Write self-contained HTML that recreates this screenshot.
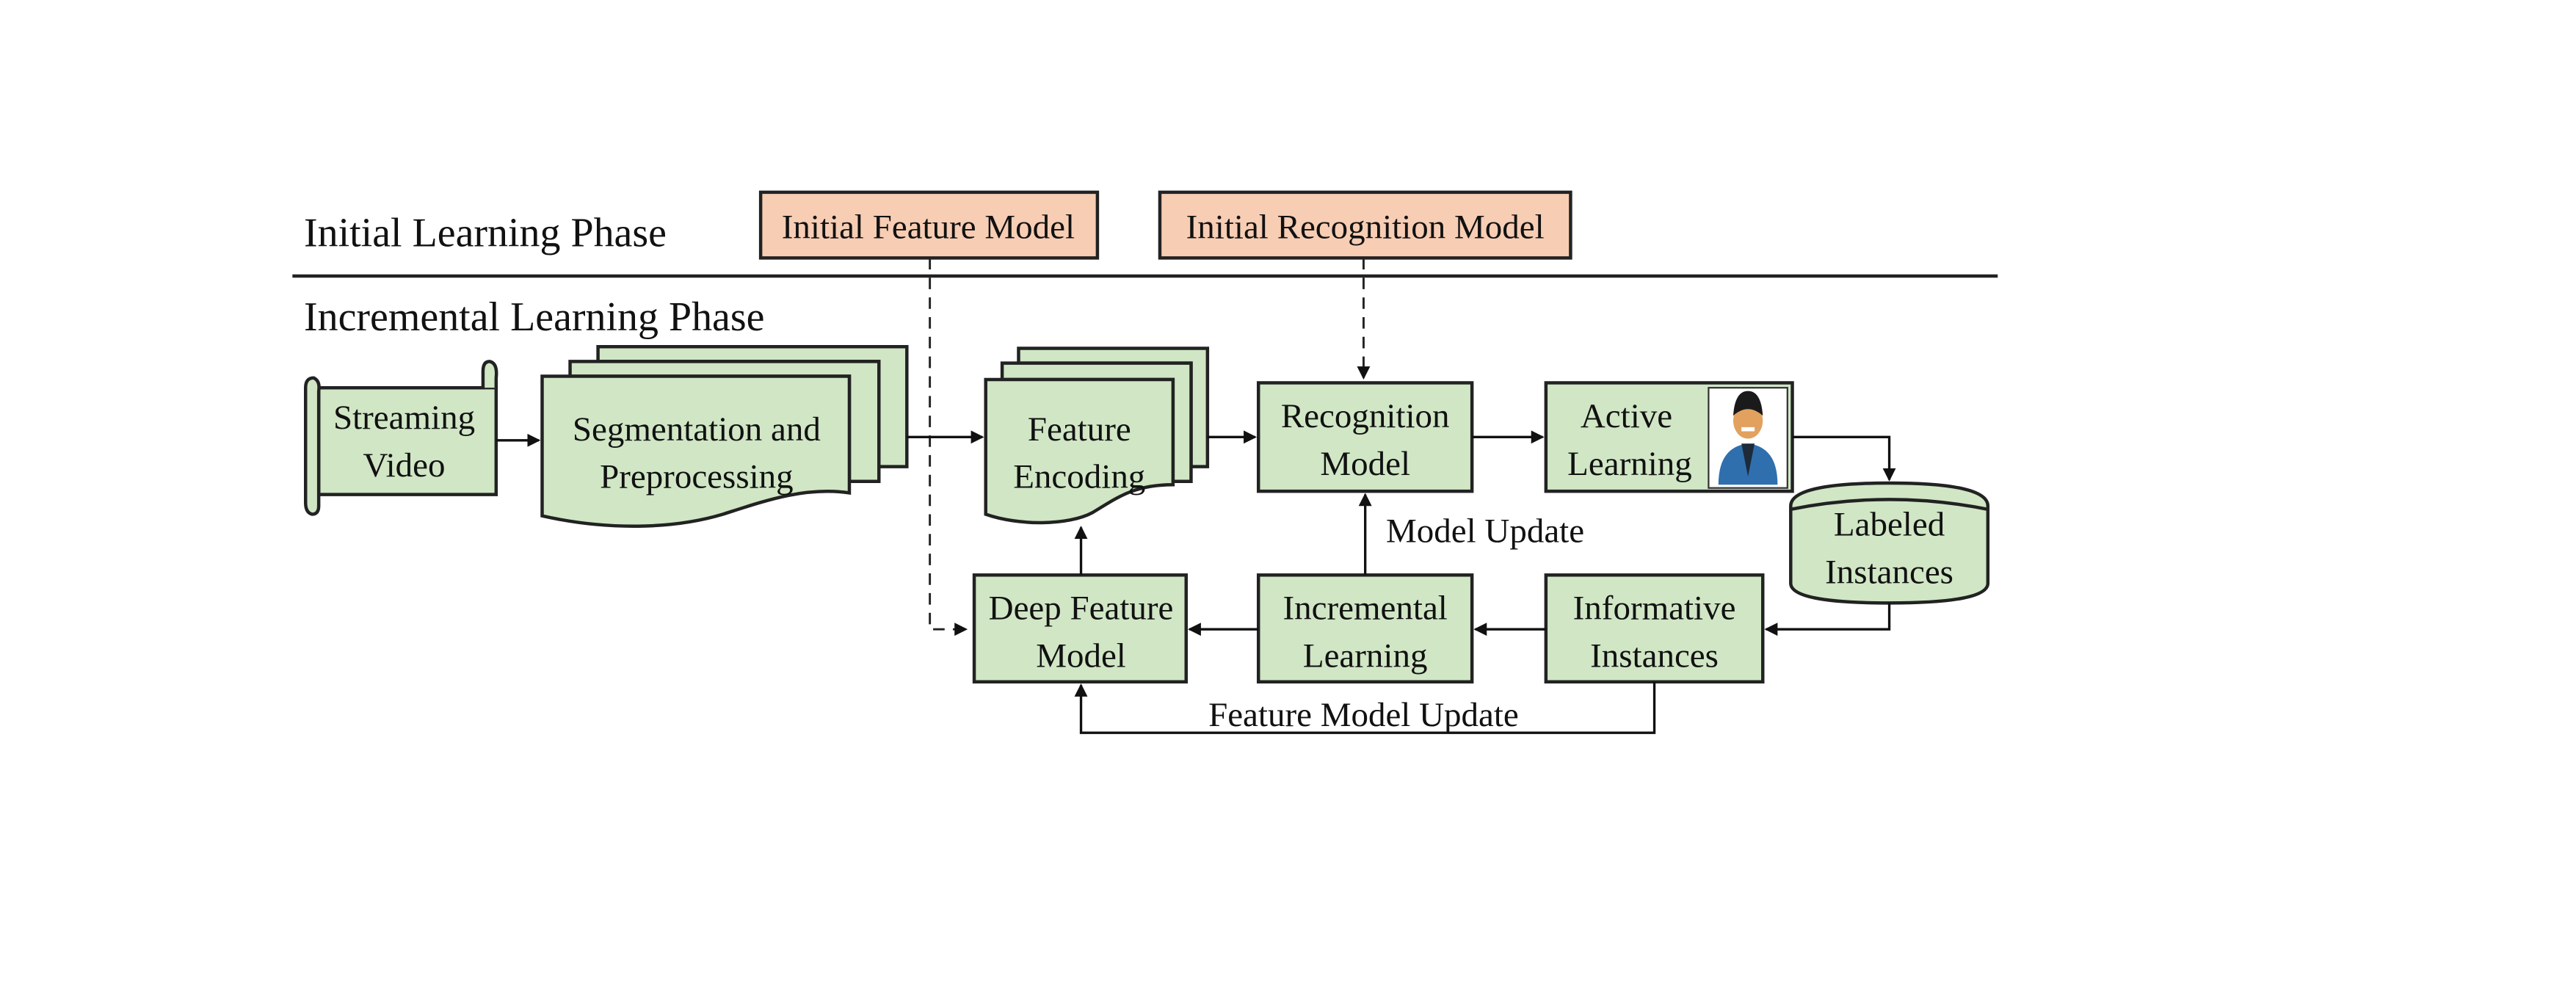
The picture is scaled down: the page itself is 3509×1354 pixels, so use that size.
<!DOCTYPE html>
<html><head><style>html,body{margin:0;padding:0;background:#fff}svg{display:block}</style></head>
<body>
<svg width="3509" height="1354" viewBox="0 0 1568 605" xmlns="http://www.w3.org/2000/svg" font-family="Liberation Serif, serif">
<defs>
<marker id="a" markerWidth="8" markerHeight="8" refX="7" refY="4" orient="auto" markerUnits="userSpaceOnUse"><path d="M0,0 L8,4 L0,8 Z" fill="#111"/></marker>
</defs>
<g fill="#111">
<text x="185" y="150" font-size="25">Initial Learning Phase</text>
<text x="185" y="201" font-size="25">Incremental Learning Phase</text>
</g>
<line x1="178" y1="168" x2="1216" y2="168" stroke="#222" stroke-width="2"/>
<g stroke="#222" stroke-width="2" fill="#f7cdb4">
<rect x="463" y="117" width="205" height="40"/>
<rect x="706" y="117" width="250" height="40"/>
</g>
<g font-size="21" fill="#111" text-anchor="middle">
<text x="565" y="145">Initial Feature Model</text>
<text x="831" y="145">Initial Recognition Model</text>
</g>
<!-- dashed lines -->
<g stroke="#222" stroke-width="1.3" fill="none" stroke-dasharray="7,5">
<path d="M566,157 V383 H588" marker-end="url(#a)"/>
<path d="M830,157 V230" marker-end="url(#a)"/>
</g>
<g stroke="#222" stroke-width="2" fill="#d0e6c5">
<!-- streaming video scroll -->
<path d="M194,236 H302 V301 H194 Z"/>
<path d="M194,236 H294 V226 Q294,220 298,220 Q303,221 302,230 V236"/>
<path d="M186,236 Q186,230 191,230 Q195,232 194,238 V308 Q194,313 190,313 Q186,312 186,306 Z"/>
<!-- segmentation stack -->
<path d="M364,211 H552 V284 H535 V220 H364 Z"/>
<path d="M347,220 H535 V293 H517 V229 H347 Z"/>
<path d="M330,229 H517 V300 C490,296 465,305 440,313 C410,322 370,323 330,314 Z"/>
<!-- feature encoding stack -->
<path d="M620,212 H735 V284 H725 V221 H620 Z"/>
<path d="M610,221 H725 V293 H714 V231 H610 Z"/>
<path d="M600,231 H714 V295 C690,295 680,303 665,312 C650,320 620,320 600,313 Z"/>
<rect x="766" y="233" width="130" height="66"/>
<rect x="941" y="233" width="150" height="66"/>
<rect x="593" y="350" width="129" height="65"/>
<rect x="766" y="350" width="130" height="65"/>
<rect x="941" y="350" width="132" height="65"/>
<!-- cylinder -->
<path d="M1090,308 Q1090,294 1150,294 Q1210,294 1210,308 V355 Q1210,367 1150,367 Q1090,367 1090,355 Z"/>
<path d="M1090,310 Q1150,298 1210,310" fill="none"/>
</g>
<!-- person -->
<rect x="1040" y="236" width="48" height="61" fill="#fff" stroke="#333" stroke-width="1"/>
<path d="M1046,295 Q1046,272 1064,270 Q1082,272 1082,295 Z" fill="#2f6fae"/>
<path d="M1060,270 L1064,290 L1068,270 Z" fill="#1d2a3a"/>
<ellipse cx="1064" cy="256" rx="9" ry="11" fill="#e2a15f"/>
<path d="M1055,253 Q1056,238 1064,238 Q1072,238 1073,253 Q1064,245 1055,253 Z" fill="#1a1a1a"/>
<rect x="1060" y="260" width="8" height="2.5" fill="#fff"/>
<g font-size="21" fill="#111" text-anchor="middle">
<text x="246" y="261">Streaming</text><text x="246" y="290">Video</text>
<text x="424" y="268">Segmentation and</text><text x="424" y="297">Preprocessing</text>
<text x="657" y="268">Feature</text><text x="657" y="297">Encoding</text>
<text x="831" y="260">Recognition</text><text x="831" y="289">Model</text>
<text x="990" y="260">Active</text><text x="992" y="289">Learning</text>
<text x="1150" y="326">Labeled</text><text x="1150" y="355">Instances</text>
<text x="658" y="377">Deep Feature</text><text x="658" y="406">Model</text>
<text x="831" y="377">Incremental</text><text x="831" y="406">Learning</text>
<text x="1007" y="377">Informative</text><text x="1007" y="406">Instances</text>
<text x="904" y="330">Model Update</text>
<text x="830" y="442">Feature Model Update</text>
</g>
<!-- connectors -->
<g stroke="#111" stroke-width="1.5" fill="none">
<line x1="302" y1="268" x2="328" y2="268" marker-end="url(#a)"/>
<line x1="552" y1="266" x2="598" y2="266" marker-end="url(#a)"/>
<line x1="735" y1="266" x2="764" y2="266" marker-end="url(#a)"/>
<line x1="896" y1="266" x2="939" y2="266" marker-end="url(#a)"/>
<path d="M1091,266 H1150 V292" marker-end="url(#a)"/>
<path d="M1150,367 V383 H1075" marker-end="url(#a)"/>
<line x1="941" y1="383" x2="898" y2="383" marker-end="url(#a)"/>
<line x1="766" y1="383" x2="724" y2="383" marker-end="url(#a)"/>
<line x1="831" y1="350" x2="831" y2="301" marker-end="url(#a)"/>
<line x1="658" y1="350" x2="658" y2="321" marker-end="url(#a)"/>
<path d="M1007,415 V446 H658 V417" marker-end="url(#a)"/>
</g>
</svg>
</body></html>
